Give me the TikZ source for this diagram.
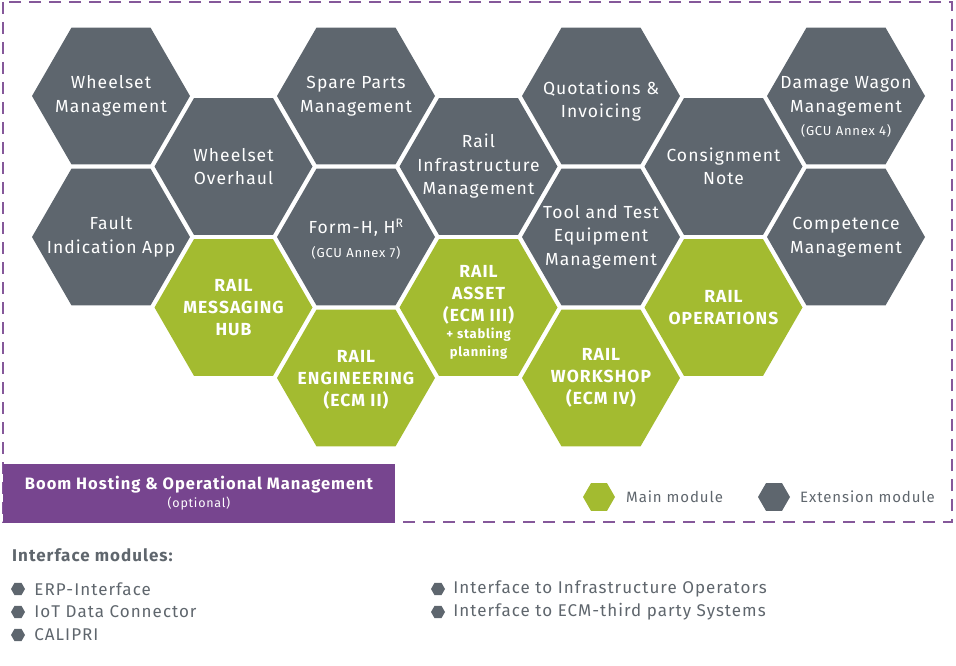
\documentclass[tikz,border=0pt]{standalone}
\usepackage{fontspec}
\setmainfont{Fira Sans}[LetterSpace=6]
\usetikzlibrary{positioning,shapes.geometric}

\definecolor{extgray}{HTML}{5E666E}
\definecolor{maingreen}{HTML}{A3BB30}
\definecolor{hostpurple}{HTML}{77458F}
\definecolor{txtgray}{HTML}{5F666D}
\newcommand{\smallfs}{\fontsize{13}{14}\selectfont}

\begin{document}
\begin{tikzpicture}[
    x=1pt,y=-1pt,
    hexbase/.style={regular polygon,regular polygon sides=6,minimum size=158pt,inner sep=0pt,outer sep=0pt},
    ext/.style={hexbase,fill=extgray},
    main/.style={hexbase,fill=maingreen},
    extlbl/.style={text=white,align=center,font=\fontsize{17.5}{23.5}\selectfont},
    mainlbl/.style={text=white,align=center,font=\fontsize{17.5}{22}\selectfont\bfseries},
    frame/.style={draw=hostpurple!90,line width=1.2pt,dash pattern=on 12pt off 8pt},
    legtxt/.style={text=txtgray,font=\fontsize{15}{18}\selectfont,inner sep=0pt},
    bullet/.style={regular polygon,regular polygon sides=6,minimum size=14pt,inner sep=0pt,fill=extgray},
    itemtxt/.style={text=txtgray,font=\fontsize{17}{20}\selectfont,inner sep=0pt}
]
\useasboundingbox (0,0) rectangle (956,666);

% Dashed frame round the modules
\draw[frame] (3,2) rectangle (952,522);

% Extension modules (grey)
\node[ext,label={[extlbl]center:{Wheelset\\Management}}] (wsm) at (111,96) {};
\node[ext,label={[extlbl]center:{Fault\\Indication App}}] (fia) at (111,237) {};
\node[ext,label={[extlbl]center:{Wheelset\\Overhaul}}] (wso) at (233.5,166.5) {};
\node[ext,label={[extlbl]center:{Spare Parts\\Management}}] (spm) at (356,96) {};
\node[ext,label={[extlbl,yshift=-2pt]center:{Form-H, H\textsuperscript{R}\\\smallfs(GCU Annex 7)}}] (frh) at (356,237) {};
\node[ext,label={[extlbl]center:{Rail\\Infrastructure\\Management}}] (rim) at (478.5,166.5) {};
\node[ext,label={[extlbl,yshift=-5pt]center:{Quotations \&\\Invoicing}}] (qin) at (601,96) {};
\node[ext,label={[extlbl]center:{Tool and Test\\Equipment\\Management}}] (tte) at (601,237) {};
\node[ext,label={[extlbl]center:{Consignment\\Note}}] (cnn) at (723.5,166.5) {};
\node[ext,label={[extlbl,yshift=-11pt]center:{Damage Wagon\\Management\\\smallfs(GCU Annex 4)}}] (dwm) at (846,96) {};
\node[ext,label={[extlbl]center:{Competence\\Management}}] (cpm) at (846,237) {};

% Main modules (green)
\node[main,label={[mainlbl]center:{RAIL\\MESSAGING\\HUB}}] (rmh) at (233.5,307.5) {};
\node[main,label={[mainlbl,yshift=-2pt]center:{RAIL\\ENGINEERING\\(ECM II)}}] (ren) at (356,378) {};
\node[main,label={[mainlbl,yshift=-5pt]center:{RAIL\\ASSET\\(ECM III)\\[-5pt]\smallfs+ stabling\\[-4pt]\smallfs planning}}] (ras) at (478.5,307.5) {};
\node[main,label={[mainlbl]center:{RAIL\\WORKSHOP\\(ECM IV)}}] (rws) at (601,378) {};
\node[main,label={[mainlbl]center:{RAIL\\OPERATIONS}}] (rop) at (723.5,307.5) {};

% Hosting box
\node[fill=hostpurple,minimum width=392pt,minimum height=59pt,inner sep=0pt,align=center,text=white,font=\fontsize{16.5}{20}\selectfont] (host) at (199,493.5)
  {\bfseries Boom Hosting \& Operational Management\\[-2pt]{\fontsize{12.5}{14}\selectfont(optional)}};

% Legend
\node[main,minimum size=32pt] (lgmain) at (599,497) {};
\node[legtxt,right=11pt of lgmain] (lgmaintxt) {Main module};
\node[ext,minimum size=32pt] (lgext) at (774,497) {};
\node[legtxt,right=10pt of lgext] (lgexttxt) {Extension module};

% Interface modules
\node[anchor=west,inner sep=0pt,text=txtgray,font=\fontsize{17}{20}\selectfont\bfseries] (ifhead) at (12,555) {Interface modules:};
\node[bullet] (b1) at (18,589) {};
\node[itemtxt,right=9pt of b1] (i1) {ERP-Interface};
\node[bullet] (b2) at (18,612) {};
\node[itemtxt,right=9pt of b2] (i2) {IoT Data Connector};
\node[bullet] (b3) at (18,635) {};
\node[itemtxt,right=9pt of b3] (i3) {CALIPRI};
\node[bullet] (b4) at (438,589) {};
\node[itemtxt,right=8pt of b4] (i4) {Interface to Infrastructure Operators};
\node[bullet] (b5) at (438,612) {};
\node[itemtxt,right=8pt of b5] (i5) {Interface to ECM-third party Systems};

\end{tikzpicture}
\end{document}
